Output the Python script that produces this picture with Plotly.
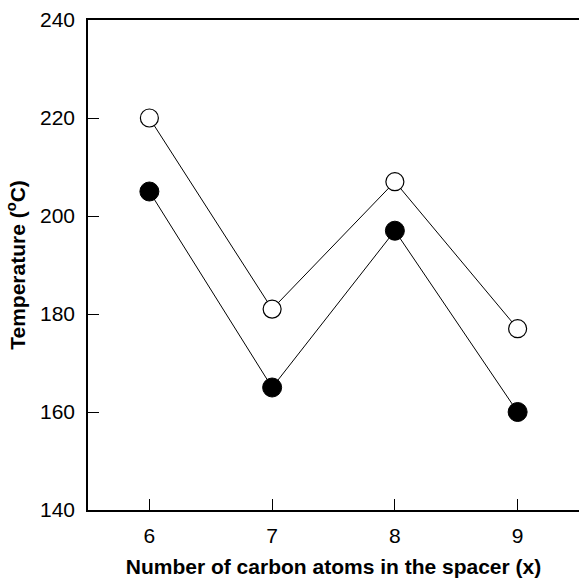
import plotly.graph_objects as go

spacer_x = [6, 7, 8, 9]
temp_open = [220, 181, 207, 177]
temp_filled = [205, 165, 197, 160]
x_ticks = [6, 7, 8, 9]
y_ticks = [140, 160, 180, 200, 220, 240]

FONT = "Liberation Sans, Arial, Helvetica, sans-serif"

fig = go.Figure()
fig.add_trace(go.Scatter(
    x=spacer_x, y=temp_open, mode="lines+markers",
    line=dict(color="black", width=1),
    marker=dict(symbol="circle", size=18, color="white", line=dict(color="black", width=1.2)),
    showlegend=False,
))
fig.add_trace(go.Scatter(
    x=spacer_x, y=temp_filled, mode="lines+markers",
    line=dict(color="black", width=1),
    marker=dict(symbol="circle", size=19, color="black", line=dict(color="black", width=1)),
    showlegend=False,
))

fig.update_layout(
    width=579, height=579,
    margin=dict(l=88, r=0, t=20, b=69),
    paper_bgcolor="white", plot_bgcolor="white",
    font=dict(family=FONT, color="black", size=21),
    xaxis=dict(
        range=[5.5, 9.5], tickvals=x_ticks, ticks="inside", ticklen=11, tickwidth=1.2,
        tickcolor="black", showline=True, linecolor="black", linewidth=1.5, mirror=True,
        showgrid=False, zeroline=False, tickfont=dict(size=21), ticklabelstandoff=6,
        title=dict(text="<b>Number of carbon atoms in the spacer (x)</b>", font=dict(size=21), standoff=13),
    ),
    yaxis=dict(
        range=[140, 240], tickvals=y_ticks, ticks="inside", ticklen=11, tickwidth=1.2,
        tickcolor="black", showline=True, linecolor="black", linewidth=1.5, mirror=False,
        showgrid=False, zeroline=False, tickfont=dict(size=21), ticklabelstandoff=7,
        title=dict(text="<b>Temperature (<sup>o</sup>C)</b>", font=dict(size=21), standoff=9),
    ),
)

fig.write_html("out.html")
